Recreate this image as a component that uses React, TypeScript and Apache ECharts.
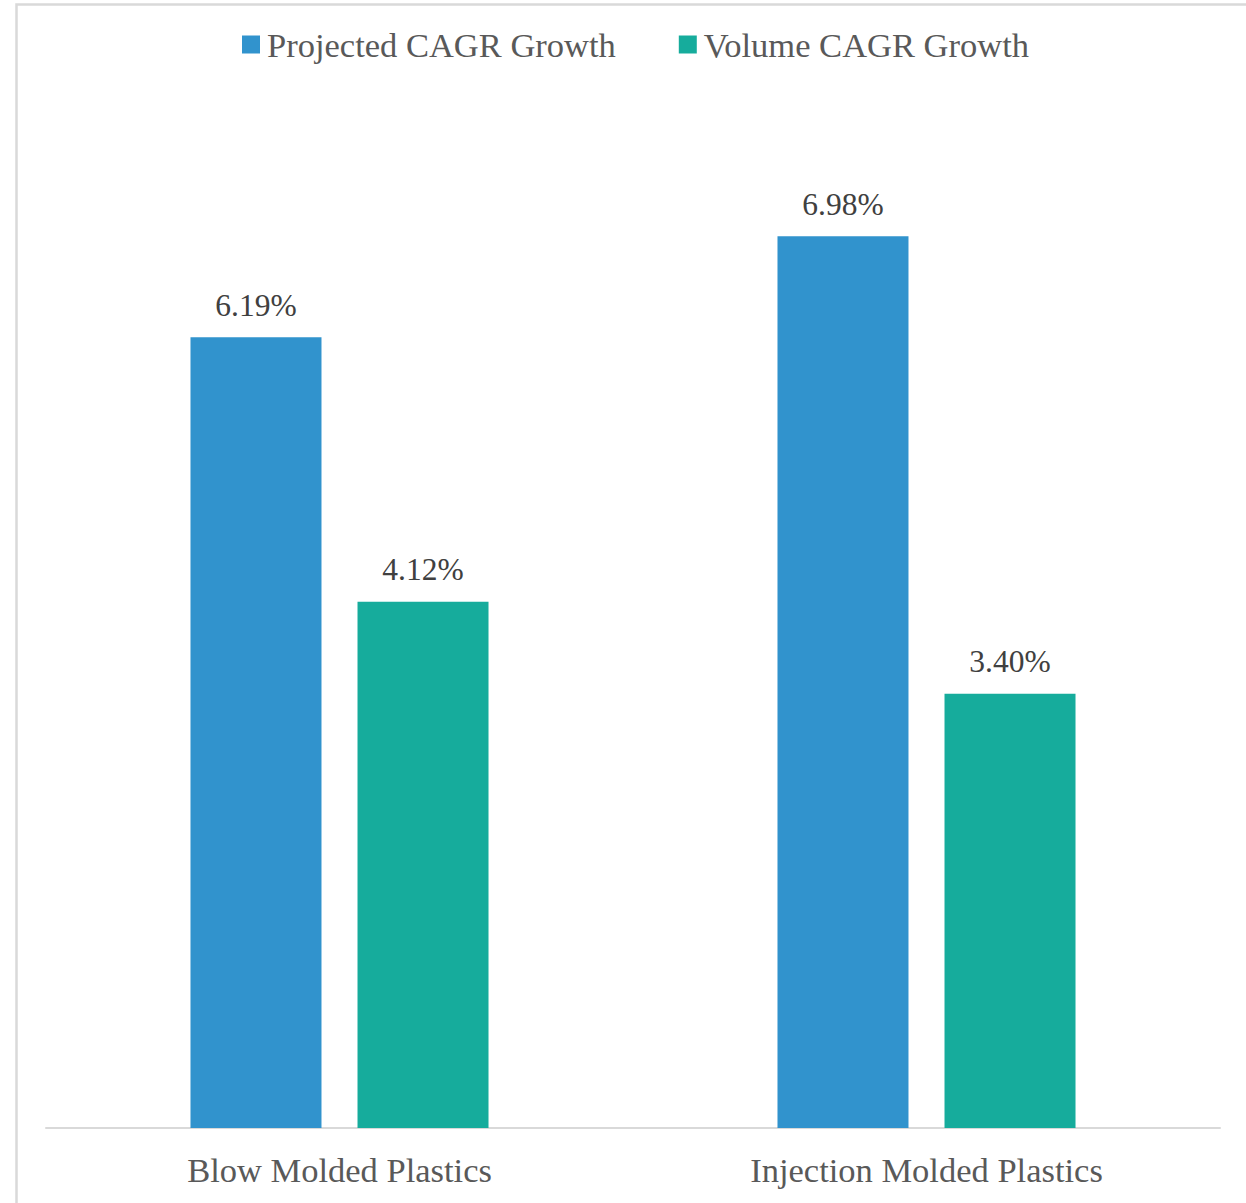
import React, { useEffect, useRef } from "react";
import * as echarts from "echarts";

const categories = ["Blow Molded Plastics", "Injection Molded Plastics"];
const projectedCagr = [6.19, 6.98];
const volumeCagr = [4.12, 3.4];
const seriesNames = ["Projected CAGR Growth", "Volume CAGR Growth"];

const FONT = "'Liberation Serif', serif";
const TEXT = "#595959";

export default function App() {
  const ref = useRef<HTMLDivElement>(null);
  useEffect(() => {
    const chart = echarts.init(ref.current!, null, { renderer: "svg" });
    const label = {
      show: true,
      position: "top",
      distance: 16,
      color: "#404040",
      fontFamily: FONT,
      fontSize: 31.5,
      formatter: (p: any) => p.value.toFixed(2) + "%",
    };
    chart.setOption({
      animation: false,
      backgroundColor: "#ffffff",
      graphic: [
        {
          type: "rect",
          shape: { x: 16.5, y: 4.5, width: 1300, height: 1300 },
          style: { fill: "none", stroke: "#d9d9d9", lineWidth: 2.5 },
          silent: true,
        },
      ],
      legend: {
        top: 22,
        left: 237,
        itemWidth: 18,
        itemHeight: 18,
        itemGap: 63,
        icon: "rect",
        textStyle: { color: TEXT, fontFamily: FONT, fontSize: 34.5, padding: [0, 0, 0, 2] },
        data: seriesNames,
      },
      grid: { left: 46, right: 26, top: 106, bottom: 75, containLabel: false },
      xAxis: {
        type: "category",
        data: categories,
        axisLine: { lineStyle: { color: "#d9d9d9", width: 2 } },
        axisTick: { show: false },
        axisLabel: { color: TEXT, fontFamily: FONT, fontSize: 34.5, margin: 24 },
      },
      yAxis: {
        type: "value",
        min: 0,
        max: 8,
        interval: 1,
        show: false,
        splitLine: { show: false },
      },
      series: [
        {
          name: seriesNames[0],
          type: "bar",
          data: projectedCagr,
          barWidth: 131,
          barGap: "27.5%",
          itemStyle: { color: "#3193CD" },
          label,
        },
        {
          name: seriesNames[1],
          type: "bar",
          data: volumeCagr,
          barWidth: 131,
          itemStyle: { color: "#16AC9C" },
          label,
        },
      ],
    });
    return () => chart.dispose();
  }, []);
  return (
    <div
      ref={ref}
      style={{ position: "absolute", left: 0, top: 0, width: 1246, height: 1203 }}
    />
  );
}
